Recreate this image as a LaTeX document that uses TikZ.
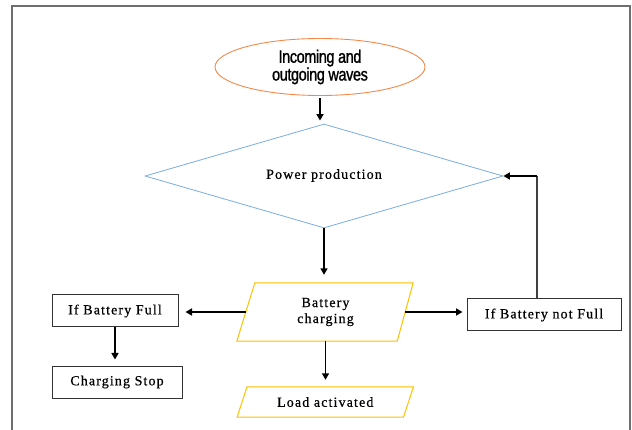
\documentclass[tikz,border=0pt]{standalone}
\usepackage{fontspec}
\setmainfont{Liberation Serif}
\newfontfamily\bodyfont[LetterSpace=8,FakeBold=0.6]{Liberation Serif}
\newfontfamily\narrowsans[FakeStretch=0.8,FakeBold=1.2,LetterSpace=-2]{Liberation Sans}
\usetikzlibrary{shapes.geometric,arrows.meta,calc}
\definecolor{ovalc}{HTML}{F4894A}
\definecolor{diac}{HTML}{7AAEE0}
\definecolor{parc}{HTML}{FFC000}
\definecolor{framec}{HTML}{6E6E6E}
\begin{document}
\begin{tikzpicture}[x=1pt,y=-1pt,
  arr/.style={line width=1.6pt,-{Triangle[length=6.5pt,width=7pt]}},
  oval/.style={ellipse,draw=ovalc,line width=0.9pt,minimum width=210pt,minimum height=57pt,inner sep=0pt,align=center,font=\narrowsans\fontsize{18}{16}\selectfont},
  txt/.style={font=\bodyfont\fontsize{14}{16}\selectfont},
  dia/.style={diamond,aspect=3.44,draw=diac,line width=0.8pt,minimum width=358pt,minimum height=104pt,inner sep=0pt,txt},
  pbox/.style={draw=none,inner sep=0pt,align=center,txt},
  pline/.style={draw=parc,line width=1pt},
  rbox/.style={draw=black!80,line width=1pt,inner sep=0pt,align=center,txt},
]
\useasboundingbox (0,0) rectangle (632,430);
\fill[white] (0,0) rectangle (632,430);
% frame
\coordinate (f1) at (12,432);
\coordinate (f2) at (12,6);
\coordinate (f3) at (630,6);
\coordinate (f4) at (630,432);
\draw[framec,line width=1.5pt] (f1) -- (f2) -- (f3) -- (f4);

\node[oval] (iw) at (320,67) {Incoming and\\outgoing waves};
\node[dia] (pp) at (324,176) {\raisebox{4pt}{Power production}};
\node[pbox,minimum width=159pt,minimum height=58pt] (bc) at (325.5,312) {Battery\\charging};
\draw[pline] ($(bc.north west)+(9,0)$) -- ($(bc.north east)+(8,0)$) -- ($(bc.south east)+(-8,0)$) -- ($(bc.south west)+(-9,0)$) -- cycle;
\node[pbox,minimum width=166pt,minimum height=30pt] (la) at (325.25,402) {Load activated};
\draw[pline] ($(la.north west)+(5,0)$) -- ($(la.north east)+(5,0)$) -- ($(la.south east)+(-5,0)$) -- ($(la.south west)+(-5,0)$) -- cycle;
\node[rbox,minimum width=126pt,minimum height=32pt] (bf) at (115,311) {\raisebox{2pt}{If Battery Full}};
\node[rbox,minimum width=130pt,minimum height=32pt] (cs) at (117,382) {Charging Stop};
\node[rbox,minimum width=154pt,minimum height=32pt] (nf) at (544,315) {\raisebox{2pt}{If Battery not Full}};

\coordinate (fb) at (537,0);
\draw[arr,shorten <=2pt,shorten >=3pt] (iw.south) -- (iw.south |- pp.north);
\draw[arr,shorten >=8pt] (pp.south) -- (pp.south |- bc.north);
\draw[arr,shorten >=4pt] (bc.east) -- (bc.east -| nf.west);
\draw[arr,shorten >=7pt] (bc.west) -- (bc.west -| bf.east);
\draw[arr,shorten >=6pt] (bf.south) -- (bf.south |- cs.north);
\draw[arr,shorten >=7pt] (bc.south) -- (bc.south |- la.north);
\draw[line width=1.3pt,black!75] (nf.north -| fb) -- (pp.east -| fb);
\draw[arr] (pp.east -| fb) -- (pp.east);
\end{tikzpicture}
\end{document}
